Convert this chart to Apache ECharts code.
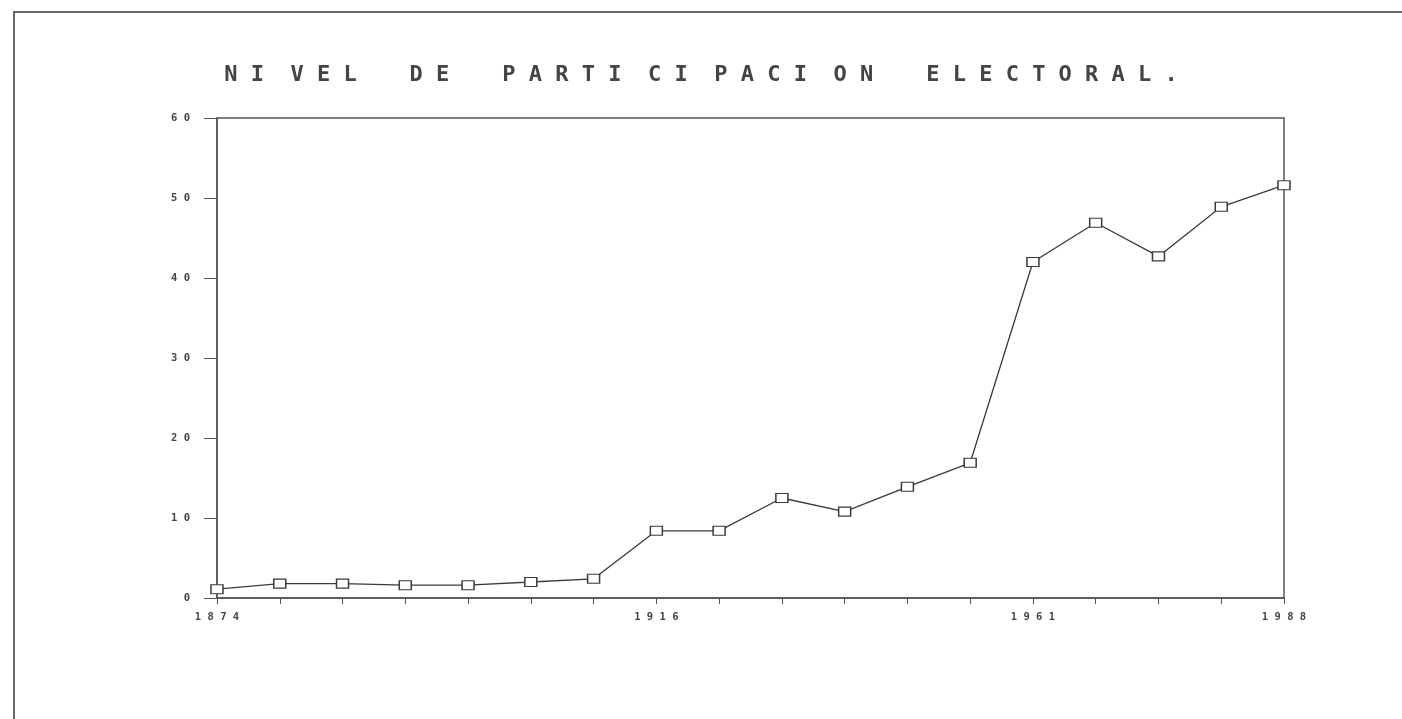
<!DOCTYPE html>
<html>
<head>
<meta charset="utf-8">
<script src="https://cdn.jsdelivr.net/npm/echarts@6/dist/echarts.min.js"></script>
<style>
  html, body { margin: 0; padding: 0; background: #fff; }
  #chart { width: 1402px; height: 719px; }
</style>
</head>
<body>
<div id="chart"></div>
<script>
// elecciones (solo se rotulan 1874, 1916, 1961 y 1988)
var years = ['1874', '1880', '1886', '1892', '1898', '1904', '1910', '1916', '1922',
             '1928', '1934', '1940', '1946', '1961', '1965', '1969', '1973', '1988'];
var shownYears = ['1874', '1916', '1961', '1988'];
// nivel de participacion (%)
var participacion = [1.1, 1.8, 1.8, 1.6, 1.6, 2.0, 2.4, 8.4, 8.4,
                     12.5, 10.8, 13.9, 16.9, 42.0, 46.9, 42.7, 48.9, 51.6];
var yTicks = [0, 10, 20, 30, 40, 50, 60];

var ink = '#3a3a3a';

// separa las letras como en la maquina original
function spaced(s) {
  return s.split('').join(' ');
}

var chart = echarts.init(document.getElementById('chart'));

chart.setOption({
  backgroundColor: '#fff',
  animation: false,
  title: {
    text: 'N I  V E L    D E    P A R T I  C I  P A C I  O N    E L E C T O R A L .',
    left: 'center',
    top: 59,
    textStyle: {
      fontFamily: 'DejaVu Sans Mono',
      fontWeight: 'bold',
      fontSize: 22,
      color: '#444'
    }
  },
  grid: {
    left: 217, right: 118, top: 118, bottom: 121,
    show: true,
    borderColor: '#555',
    borderWidth: 1.5,
    backgroundColor: 'transparent'
  },
  xAxis: {
    type: 'category',
    data: years,
    boundaryGap: false,
    axisLine: { lineStyle: { color: '#555', width: 1.5 } },
    axisTick: { show: true, interval: 0, length: 6, lineStyle: { color: '#555' } },
    axisLabel: {
      interval: function (i, v) { return shownYears.indexOf(v) >= 0; },
      formatter: function (v) { return spaced(v); },
      fontFamily: 'DejaVu Sans Mono',
      fontWeight: 'bold',
      fontSize: 10.5,
      color: '#444',
      margin: 14
    },
    splitLine: { show: false }
  },
  yAxis: {
    type: 'value',
    min: 0,
    max: 60,
    interval: 10,
    axisLine: { show: true, lineStyle: { color: '#555', width: 1.5 } },
    axisTick: { show: true, length: 13, lineStyle: { color: '#555' } },
    axisLabel: {
      formatter: function (v) { return yTicks.indexOf(v) >= 0 ? spaced(String(v)) : ''; },
      fontFamily: 'DejaVu Sans Mono',
      fontWeight: 'bold',
      fontSize: 10.5,
      color: '#444',
      margin: 27
    },
    splitLine: { show: false }
  },
  series: [{
    type: 'line',
    data: participacion,
    symbol: 'rect',
    symbolSize: [12, 9],
    showAllSymbol: true,
    lineStyle: { color: ink, width: 1.3 },
    itemStyle: { color: '#fff', borderColor: ink, borderWidth: 1.3 }
  }],
  graphic: [{
    type: 'polyline',
    shape: { points: [[14, 719], [14, 12], [1402, 12]] },
    style: { stroke: '#666', lineWidth: 2, fill: null }
  }]
});
</script>
</body>
</html>
